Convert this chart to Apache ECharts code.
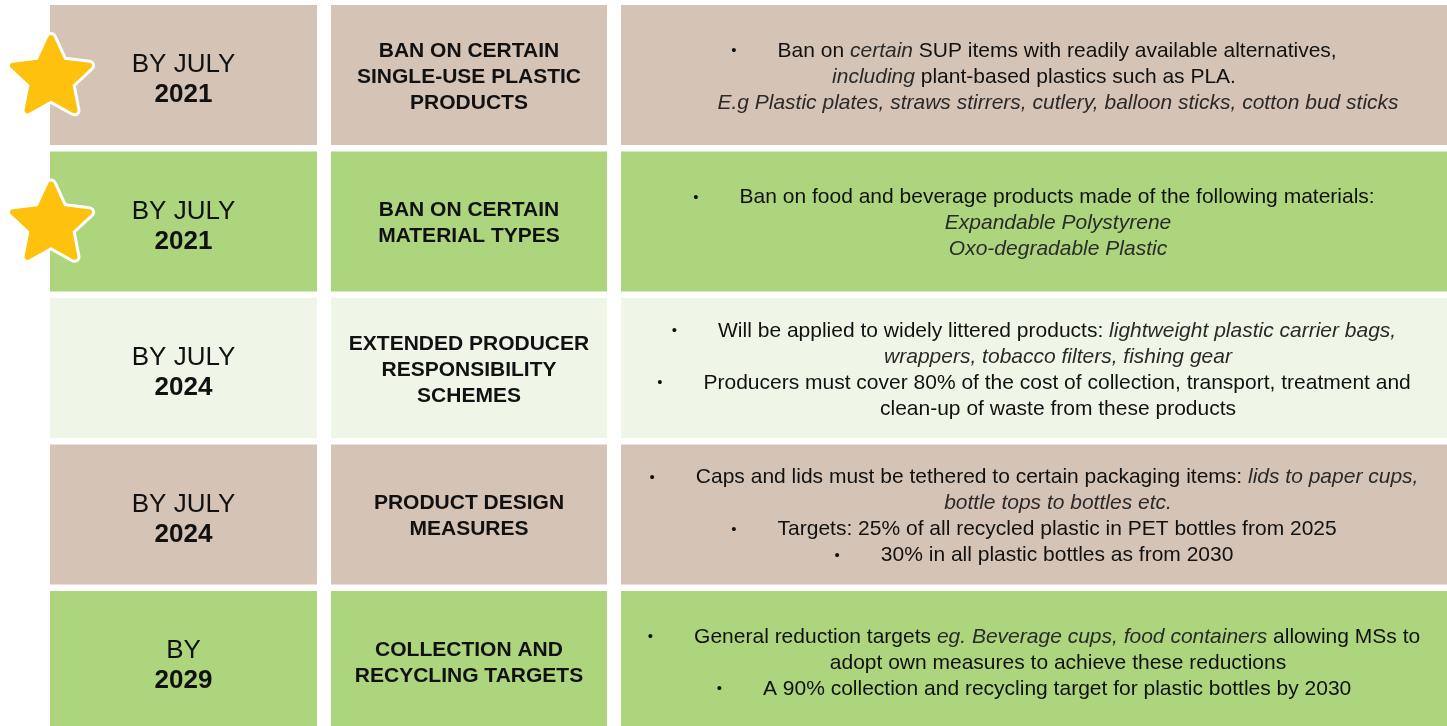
<!DOCTYPE html>
<html>
<head>
<meta charset="utf-8">
<title>SUP directive timeline</title>
<script src="https://cdn.jsdelivr.net/npm/echarts@6/dist/echarts.min.js"></script>
<style>
    html, body {margin: 0; padding: 0; background: #fff;}
    #main {width: 1447px; height: 726px;}
</style>
</head>
<body>
<div id="main"></div>
<script>
// rows of the table, top to bottom
var dateLabel = ['BY JULY', 'BY JULY', 'BY JULY', 'BY JULY', 'BY'];
var dateYear = ['2021', '2021', '2024', '2024', '2029'];
var measures = [
    'BAN ON CERTAIN\nSINGLE-USE PLASTIC\nPRODUCTS',
    'BAN ON CERTAIN\nMATERIAL TYPES',
    'EXTENDED PRODUCER\nRESPONSIBILITY\nSCHEMES',
    'PRODUCT DESIGN\nMEASURES',
    'COLLECTION AND\nRECYCLING TARGETS'
];
var rowTheme = ['paper', 'green', 'pale', 'paper', 'green'];
var starredRows = [0, 1];
// "* " = bullet line, "> " = hanging continuation, _text_ = italic
var details = [
    ['* Ban on _certain_ SUP items with readily available alternatives,',
        '_including_ plant-based plastics such as PLA.',
        '> _E.g Plastic plates, straws stirrers, cutlery, balloon sticks, cotton bud sticks_'],
    ['* Ban on food and beverage products made of the following materials:',
        '> _Expandable Polystyrene_',
        '> _Oxo-degradable Plastic_'],
    ['* Will be applied to widely littered products: _lightweight plastic carrier bags,_',
        '> _wrappers, tobacco filters, fishing gear_',
        '* Producers must cover 80% of the cost of collection, transport, treatment and',
        '> clean-up of waste from these products'],
    ['* Caps and lids must be tethered to certain packaging items: _lids to paper cups,_',
        '> _bottle tops to bottles etc._',
        '* Targets: 25% of all recycled plastic in PET bottles from 2025',
        '* 30% in all plastic bottles as from 2030'],
    ['* General reduction targets _eg. Beverage cups, food containers_ allowing MSs to',
        '> adopt own measures to achieve these reductions',
        '* A 90% collection and recycling target for plastic bottles by 2030']
];

// layout (x in pixels from grid left, rows 146.5px apart, last one runs off the page)
var colEdges = [[0, 267], [281, 557], [571, 1397]];
var rowPitch = 146.5;
var rowGap = 6.5;
var textShift = 2;
var themeColor = {paper: '#d5c4b6', green: '#add57d', pale: '#eff6e7'};
var fontFamily = '"Liberation Sans", Arial, Helvetica, sans-serif';

function richLine(line) {
    let prefix = '';
    if (line.indexOf('* ') === 0) {
        prefix = '{bul|•}';
        line = line.substr(2);
    } else if (line.indexOf('> ') === 0) {
        prefix = '{ind| }';
        line = line.substr(2);
    }
    let parts = line.split('_');
    let out = prefix;
    for (let i = 0; i < parts.length; i++) {
        if (parts[i] === '') continue;
        out += '{' + (i % 2 === 1 ? 'i' : 'n') + '|' + parts[i] + '}';
    }
    return out;
}

var cellData = [];
for (let r = 0; r < dateYear.length; r++) {
    for (let c = 0; c < 3; c++) {
        cellData.push([c, r]);
    }
}
var starData = starredRows.map(function (r) {
    return [0, r];
});

function cellBox(api, col, row) {
    let band = api.size([0, 1])[1];
    let p0 = api.coord([colEdges[col][0], row]);
    let p1 = api.coord([colEdges[col][1], row]);
    let top = p0[1] - band / 2;
    return {x: p0[0], y: top, width: p1[0] - p0[0], height: band - rowGap};
}

function renderCell(params, api) {
    let col = api.value(0), row = api.value(1);
    let box = cellBox(api, col, row);
    let cx = box.x + box.width / 2, cy = box.y + box.height / 2 + textShift;
    let text;
    if (col === 0) {
        text = {
            type: 'text',
            style: {
                text: '{r|' + dateLabel[row] + '}\n{b|' + dateYear[row] + '}',
                x: cx, y: cy + 3, align: 'center', verticalAlign: 'middle',
                rich: {
                    r: {fontSize: 26, fontFamily: fontFamily, fill: '#111', lineHeight: 30},
                    b: {fontSize: 26, fontFamily: fontFamily, fontWeight: 'bold', fill: '#111', lineHeight: 30}
                }
            }
        };
    } else if (col === 1) {
        text = {
            type: 'text',
            style: {
                text: measures[row],
                x: cx, y: cy, align: 'center', verticalAlign: 'middle',
                fontSize: 21, fontWeight: 'bold', fontFamily: fontFamily, fill: '#111', lineHeight: 26
            }
        };
    } else {
        text = {
            type: 'text',
            style: {
                text: details[row].map(richLine).join('\n'),
                x: cx, y: cy, align: 'center', verticalAlign: 'middle',
                rich: {
                    n: {fontSize: 21, fontFamily: fontFamily, fill: '#111', lineHeight: 26},
                    i: {fontSize: 21, fontFamily: fontFamily, fontStyle: 'italic', fill: '#2a2a2a', lineHeight: 26},
                    bul: {fontSize: 15, fontFamily: fontFamily, fill: '#111', padding: [0, 41, 0, 0], lineHeight: 26},
                    ind: {fontSize: 21, width: 48, lineHeight: 26}
                }
            }
        };
    }
    return {
        type: 'group',
        children: [{
            type: 'rect',
            shape: box,
            style: {fill: themeColor[rowTheme[row]]}
        }, text]
    };
}

function starPoints(cx, cy, R, ratio) {
    let pts = [];
    for (let k = 0; k < 10; k++) {
        let a = -Math.PI / 2 + k * Math.PI / 5;
        let rr = k % 2 === 0 ? R : R * ratio;
        pts.push([cx + rr * Math.cos(a), cy + rr * Math.sin(a)]);
    }
    return pts;
}

function renderStar(params, api) {
    let row = api.value(1);
    let p = api.coord([0, row]);
    let box = cellBox(api, 0, row);
    let cx = p[0] + 1, cy = box.y + box.height / 2 + 3;
    let pts = starPoints(cx, cy, 40, 0.48);
    return {
        type: 'group',
        children: [{
            type: 'polygon',
            shape: {points: pts},
            style: {fill: '#fff', stroke: '#fff', lineWidth: 12, lineJoin: 'round'}
        }, {
            type: 'polygon',
            shape: {points: pts},
            style: {fill: '#fdc10e', stroke: '#fdc10e', lineWidth: 6, lineJoin: 'round'}
        }]
    };
}

var myChart = echarts.init(document.getElementById('main'));
var option = {
    animation: false,
    grid: {left: 50, right: 0, top: 5, bottom: 0},
    xAxis: {type: 'value', min: 0, max: 1397, show: false},
    yAxis: {
        type: 'value',
        inverse: true,
        min: -0.5,
        max: -0.5 + 721 / rowPitch,
        show: false
    },
    series: [{
        type: 'custom',
        clip: false,
        renderItem: renderCell,
        data: cellData
    }, {
        type: 'custom',
        clip: false,
        z: 5,
        renderItem: renderStar,
        data: starData
    }]
};
myChart.setOption(option);
</script>
</body>
</html>
